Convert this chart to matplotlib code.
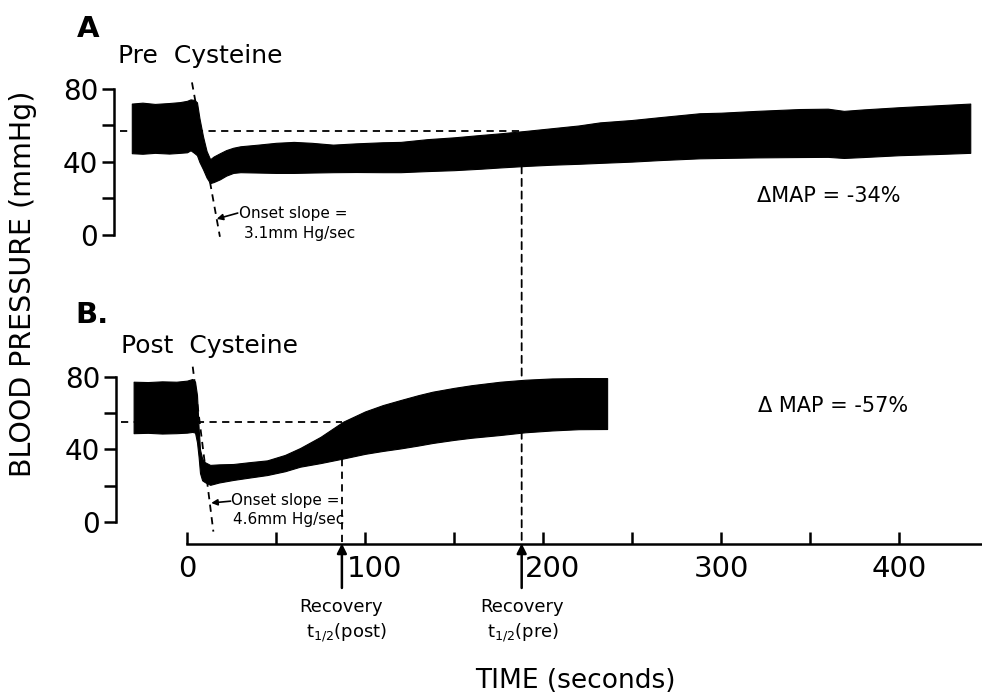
import numpy as np
import matplotlib.pyplot as plt
import matplotlib.transforms as mtransforms
from matplotlib.patches import ConnectionPatch

plt.rcParams['font.family'] = ['DejaVu Sans']

# A. pre cysteine trace envelope (time in s, pressure in mmHg)
time_pre = [-31, -25, -18, -10, -4, 0, 2, 4, 5.6, 7, 9, 11, 13, 15, 18.5, 22, 26, 30,
            40, 50, 60, 70, 82, 95, 110, 120, 135, 150, 165, 176, 190, 205, 220, 232,
            250, 265, 288, 300, 320, 344, 360, 369, 380, 400, 420, 440]
upper_pre = [72, 72.5, 71.8, 72.3, 72.8, 73.5, 74.3, 74, 72.7, 64, 54, 46, 41.5, 43, 44.8, 46.5, 47.8, 48.6,
             49.5, 50.5, 51, 50.5, 49.5, 50.2, 50.8, 51, 52.5, 53.5, 54.8, 55.7, 57, 58.5, 60, 61.7,
             63, 64.5, 66.7, 67, 68, 69, 69.2, 68, 68.8, 70, 71, 72]
lower_pre = [44.8, 44.5, 45, 44.6, 45, 45.3, 46.4, 45, 43.7, 40, 36, 31.5, 28.4, 29, 30.5, 32.5, 34, 34.4,
             34.2, 34, 34, 34.2, 34.4, 34.5, 34.4, 34.4, 35, 35.5, 36.3, 37, 37.8, 38.5, 39, 39.5,
             40.2, 41, 42, 42.2, 42.5, 42.7, 42.8, 42.2, 42.7, 43.7, 44.3, 45]

# B. post cysteine
time_post = [-30, -22, -14, -6, 0, 3, 4.5, 5.6, 6.5, 7.3, 8.5, 10, 11, 13, 18, 26, 35, 45, 55,
             63.5, 75, 87.6, 100, 110, 120, 130, 138, 150, 160, 176, 190, 205, 220, 236]
upper_post = [77.4, 77.2, 77.6, 77.4, 78, 78.9, 77.4, 70, 52, 40, 35, 33, 32.5, 31.5, 31.8, 32, 33, 34, 37,
              40.8, 47, 55.3, 61, 64.5, 67.3, 70, 71.9, 74, 75.5, 77.4, 78.5, 79.2, 79.4, 79.4]
lower_post = [49, 49.2, 48.8, 49, 49.3, 49.7, 49.3, 44, 36, 27, 23, 22, 21.5, 20.5, 21.8, 23.2, 24.5, 25.9, 28,
              30.5, 32.5, 35, 37.6, 39.2, 40.6, 42.2, 43.6, 45.3, 46.5, 48, 49.5, 50.5, 51.2, 51.3]

half_pre = 188       # recovery t1/2 (pre), s
half_post = 87       # recovery t1/2 (post), s
level_pre = 57       # half recovery pressure
level_post = 55.2
onset_pre_t = [2.8, 18.5]
onset_pre_p = [83.6, -1]
onset_post_t = [3.2, 14.8]
onset_post_p = [85.7, -5.3]

xticks_major = [0, 100, 200, 300, 400]
xticks_minor = [50, 150, 250, 350]

W, H = 982, 693
def fx(x):
    return x / W
def fy(y):
    return 1 - y / H

dash = (0, (4, 3))

fig = plt.figure(figsize=(9.82, 6.93), dpi=100)
axA = fig.add_axes([fx(114), fy(245), 1 - fx(114), fy(70) - fy(245)])
axB = fig.add_axes([fx(116), fy(544), 1 - fx(116), fy(360) - fy(544)])

axA.set_xlim(-41.0, 446.6)
axA.set_ylim(-5.5, 90.4)
axB.set_xlim(-39.9, 446.6)
axB.set_ylim(-12.14, 89.38)

for ax in (axA, axB):
    ax.spines['top'].set_visible(False)
    ax.spines['right'].set_visible(False)
    ax.spines['left'].set_bounds(0, 80)
    ax.spines['left'].set_linewidth(1.8)
    ax.set_yticks([0, 40, 80])
    ax.set_yticks([20, 60], minor=True)
    ax.tick_params(axis='y', which='both', direction='out', length=8.5, width=1.8,
                   labelsize=20, pad=3)
    ax.patch.set_alpha(0)

axA.spines['bottom'].set_visible(False)
axA.set_xticks([])

axB.spines['bottom'].set_bounds(0, 446.6)
axB.spines['bottom'].set_linewidth(1.8)
axB.set_xticks(xticks_major)
axB.set_xticks(xticks_minor, minor=True)
axB.tick_params(axis='x', which='both', direction='in', length=9, width=1.8,
                labelsize=21, pad=8)
# 100 and 200 sit a little to the right of the recovery arrows
shift = mtransforms.ScaledTranslation(9 / 100, 0, fig.dpi_scale_trans)
for lab, v in zip(axB.get_xticklabels(), xticks_major):
    if v in (100, 200):
        lab.set_transform(lab.get_transform() + shift)

# traces
axA.fill_between(time_pre, lower_pre, upper_pre, color='black', lw=0.8, zorder=3)
axB.fill_between(time_post, lower_post, upper_post, color='black', lw=0.8, zorder=3)

# onset slope lines
axA.plot(onset_pre_t, onset_pre_p, color='k', lw=1.3, ls=dash)
axB.plot(onset_post_t, onset_post_p, color='k', lw=1.3, ls=dash)

# half recovery levels
axA.plot([-37.6, half_pre], [level_pre, level_pre], color='k', lw=1.3, ls=dash)
axB.plot([-37.0, half_post], [level_post, level_post], color='k', lw=1.3, ls=dash)

yb0 = axB.get_ylim()[0]
axB.plot([half_post, half_post], [np.interp(half_post, time_post, lower_post), yb0],
         color='k', lw=1.3, ls=dash)
con = ConnectionPatch(xyA=(half_pre, np.interp(half_pre, time_pre, lower_pre)), coordsA='data', axesA=axA,
                      xyB=(half_pre, yb0), coordsB='data', axesB=axB,
                      color='k', lw=1.3, ls=dash)
fig.add_artist(con)

# recovery arrows
for t in (half_post, half_pre):
    axB.annotate('', xy=(t, yb0 + 0.3), xytext=(t, -36.4), annotation_clip=False,
                 arrowprops=dict(arrowstyle='-|>', color='k', lw=1.8, mutation_scale=14,
                                 shrinkA=0, shrinkB=0))

fig.text(fx(341), fy(612), 'Recovery', fontsize=13, ha='center', va='baseline')
fig.text(fx(346), fy(637), r'$\mathregular{t_{1/2}}$(post)', fontsize=13, ha='center', va='baseline')
fig.text(fx(522), fy(612), 'Recovery', fontsize=13, ha='center', va='baseline')
fig.text(fx(523), fy(637), r'$\mathregular{t_{1/2}}$(pre)', fontsize=13, ha='center', va='baseline')

# onset slope notes
axA.annotate('', xy=(16.7, 8.8), xytext=(28.5, 12), annotation_clip=False,
             arrowprops=dict(arrowstyle='-|>', color='k', lw=1.2, mutation_scale=9,
                             shrinkA=0, shrinkB=0))
fig.text(fx(239), fy(218), 'Onset slope =', fontsize=11, ha='left', va='baseline')
fig.text(fx(244), fy(238), '3.1mm Hg/sec', fontsize=11, ha='left', va='baseline')
axB.annotate('', xy=(13.6, 10.5), xytext=(24.5, 11.5), annotation_clip=False,
             arrowprops=dict(arrowstyle='-|>', color='k', lw=1.2, mutation_scale=9,
                             shrinkA=0, shrinkB=0))
fig.text(fx(231), fy(505), 'Onset slope =', fontsize=11, ha='left', va='baseline')
fig.text(fx(233), fy(524), '4.6mm Hg/sec', fontsize=11, ha='left', va='baseline')

# panel labels
fig.text(fx(77), fy(37), 'A', fontsize=21, fontweight='bold', ha='left', va='baseline')
fig.text(fx(118), fy(63), 'Pre  Cysteine', fontsize=18, ha='left', va='baseline')
fig.text(fx(75), fy(323), 'B.', fontsize=21, fontweight='bold', ha='left', va='baseline')
fig.text(fx(121), fy(353), 'Post  Cysteine', fontsize=18, ha='left', va='baseline')
fig.text(fx(757), fy(202), '\u0394MAP = -34%', fontsize=15, ha='left', va='baseline')
fig.text(fx(758), fy(412), '\u0394 MAP = -57%', fontsize=15, ha='left', va='baseline')

fig.text(fx(23), fy(284), 'BLOOD PRESSURE (mmHg)', fontsize=20.5, rotation=90, ha='center', va='center')
fig.text(fx(575), fy(681), 'TIME (seconds)', fontsize=19, ha='center', va='center')

fig.savefig('out.png', dpi=100)
